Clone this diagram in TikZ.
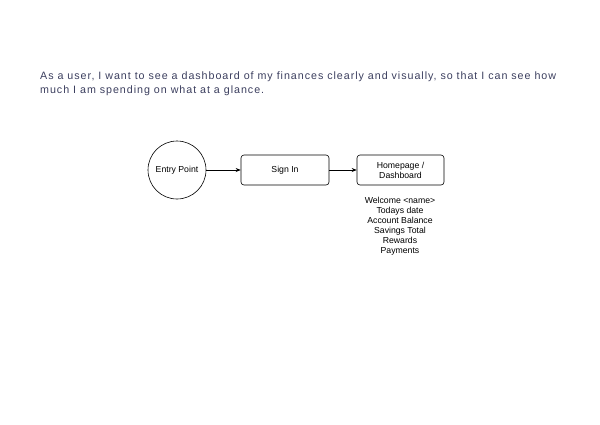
\documentclass[tikz,border=0pt]{standalone}
\usepackage{fontspec}
\setmainfont{Liberation Sans}
\newfontfamily\headfont[LetterSpace=9]{Liberation Sans}
\usetikzlibrary{arrows.meta}
\definecolor{headcol}{HTML}{3B3E5E}
\begin{document}
\begin{tikzpicture}[x=1pt,y=-1pt,
  box/.style={draw, rounded corners=3pt, minimum width=88pt, minimum height=30pt, line width=0.6pt, font=\fontsize{8.7}{10}\selectfont, align=center, inner sep=0pt},
  conn/.style={draw, line width=0.6pt, -{Stealth[length=5pt,width=4pt]}},
  lbl/.style={font=\fontsize{8.7}{10}\selectfont, align=center, inner sep=0pt}]
\useasboundingbox (0,0) rectangle (600,424);
\node[anchor=west, inner sep=0pt, text=headcol, font=\headfont\fontsize{10.7}{14}\selectfont, align=left] (head) at (40,83.5) {As a user, I want to see a dashboard of my finances clearly and visually, so that I can see how\\much I am spending on what at a glance.};
\node[draw, circle, minimum size=58pt, line width=0.6pt, inner sep=0pt, font=\fontsize{8.7}{10}\selectfont] (entry) at (177,170) {Entry Point};
\node[box] (signin) at (285,170) {Sign In};
\node[box, minimum width=87pt] (home) at (400.5,170) {Homepage /\\Dashboard};
\draw[conn] (entry) -- (signin);
\draw[conn] (signin) -- (home);
\node[lbl, anchor=north] (list) at (400,196.5) {Welcome <name>\\Todays date\\Account Balance\\Savings Total\\Rewards\\Payments};
\end{tikzpicture}
\end{document}
